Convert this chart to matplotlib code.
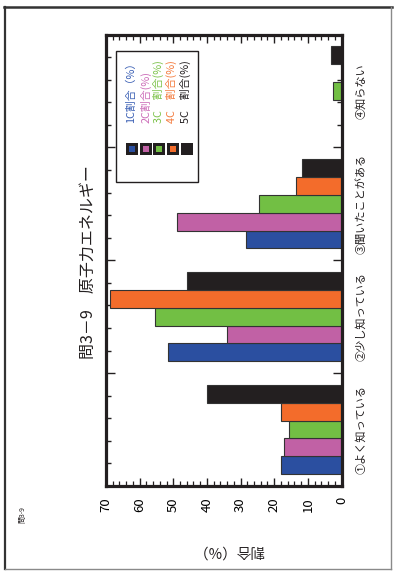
import matplotlib
matplotlib.use("Agg")
import matplotlib.pyplot as plt
from matplotlib.patches import Rectangle
from matplotlib.lines import Line2D
from matplotlib.ticker import MultipleLocator
from matplotlib.transforms import blended_transform_factory
import numpy as np

plt.rcParams['font.family'] = ['Noto Sans CJK JP', 'DejaVu Sans']

# ---- data ----
categories = ["①よく知っている", "②少し知っている", "③聞いたことがある", "④知らない"]
series_names = ["1C割合（%）", "2C割合(%)", "3C　割合(%)", "4C　割合(%)", "5C　割合(%)"]
c1 = [18.0, 51.5, 28.3, 0.0]
c2 = [17.2, 34.1, 48.8, 0.0]
c3 = [15.7, 55.4, 24.5, 2.4]
c4 = [18.0, 68.8, 13.4, 0.0]
c5 = [40.1, 45.8, 11.7, 3.2]
value_ticks = [0, 10, 20, 30, 40, 50, 60, 70]

series = [c1, c2, c3, c4, c5]
bar_colors = ["#2B4FA0", "#C161A5", "#72BF44", "#F36C2B", "#231F20"]
text_colors = ["#3A5FB4", "#CC6DB8", "#7CC24A", "#F47A3C", "#231F20"]
title = "問3－9　原子力エネルギー"

W, H = 395, 571
fig = plt.figure(figsize=(W / 100, H / 100), dpi=100)


def fx(px):
    return px / W


def fy(py):
    return 1 - py / H


# page border
fig.add_artist(Line2D([fx(5), fx(5)], [fy(7), fy(569)], color="#333333", lw=1.6))
fig.add_artist(Line2D([fx(4), fx(392)], [fy(7), fy(7)], color="#333333", lw=1.8))
fig.add_artist(Line2D([fx(391), fx(391)], [fy(7), fy(569)], color="#8a8a8a", lw=1.0))
fig.add_artist(Line2D([fx(5), fx(391)], [fy(569), fy(569)], color="#8a8a8a", lw=1.0))

# plot area (horizontal bars, value axis runs right-to-left)
left, right, top, bottom = 106, 341.5, 34.5, 486
ax = fig.add_axes([fx(left), fy(bottom), (right - left) / W, (bottom - top) / H])

n = len(series)
bh = 0.158
ypos = np.arange(len(categories)) + 0.5
for j, (vals, col) in enumerate(zip(series, bar_colors)):
    ax.barh(ypos + (j - (n - 1) / 2) * bh, vals, height=bh, color=col,
            edgecolor="#333333", linewidth=0.8, zorder=2)

ax.set_xlim(70, 0)
ax.set_ylim(0, len(categories))

for s in ax.spines.values():
    s.set_linewidth(2.3)
    s.set_color("#231F20")

ax.xaxis.set_major_locator(MultipleLocator(10))
ax.xaxis.set_minor_locator(MultipleLocator(2))
ax.set_xticks(value_ticks)
ax.set_xticklabels([str(v) for v in value_ticks], rotation=90)
ax.tick_params(axis="x", which="major", direction="in", top=True, bottom=True,
               length=6, width=1.0, pad=8, labelsize=9.5, color="#231F20")
ax.tick_params(axis="x", which="minor", direction="in", top=True, bottom=True,
               length=3.5, width=0.9, color="#231F20")

ax.yaxis.set_major_locator(MultipleLocator(1))
ax.yaxis.set_minor_locator(MultipleLocator(0.2))
ax.tick_params(axis="y", which="major", direction="in", left=True, right=True,
               length=6.5, width=1.0, labelleft=False, color="#231F20")
ax.tick_params(axis="y", which="minor", direction="in", left=True, right=True,
               length=3.8, width=1.0, color="#231F20")

# category labels on the right side
trans = blended_transform_factory(ax.transAxes, ax.transData)
for y, lab in zip(ypos, categories):
    ax.text(1.083, y, lab, transform=trans, rotation=90, ha="center", va="center",
            fontsize=8, color="#231F20")

# axis label and title
fig.text(fx(228), fy(550), "割合（%）", rotation=180, ha="center", va="center",
         fontsize=10.5, color="#231F20")
fig.text(fx(88), fy(262), title, rotation=90, ha="center", va="center",
         fontsize=11.5, color="#231F20")
fig.text(fx(22), fy(515), "問3-9", rotation=90, ha="center", va="center",
         fontsize=5, color="#231F20")

# legend box
fig.add_artist(Rectangle((fx(116), fy(181.7)), (197.7 - 116) / W, (181.7 - 50.7) / H,
                         transform=fig.transFigure, facecolor="white",
                         edgecolor="#231F20", linewidth=1.0, zorder=5))
sw_x = [131.7, 145.7, 159.3, 172.7, 186.7]
tx_x = [130.7, 145.7, 158.3, 171.7, 185.7]
sw = 12
inner = 6
for xc, tx, col, tcol, name in zip(sw_x, tx_x, bar_colors, text_colors, series_names):
    fig.add_artist(Rectangle((fx(xc - sw / 2), fy(149 + sw / 2)), sw / W, sw / H,
                             transform=fig.transFigure, facecolor="#231F20",
                             edgecolor="none", zorder=6))
    fig.add_artist(Rectangle((fx(xc - inner / 2), fy(149 + inner / 2)), inner / W, inner / H,
                             transform=fig.transFigure, facecolor=col,
                             edgecolor="none", zorder=7))
    fig.text(fx(tx), fy(123), name, rotation=90, ha="center", va="bottom",
             fontsize=7.8, color=tcol, zorder=8)

fig.savefig("out.png", dpi=100)
